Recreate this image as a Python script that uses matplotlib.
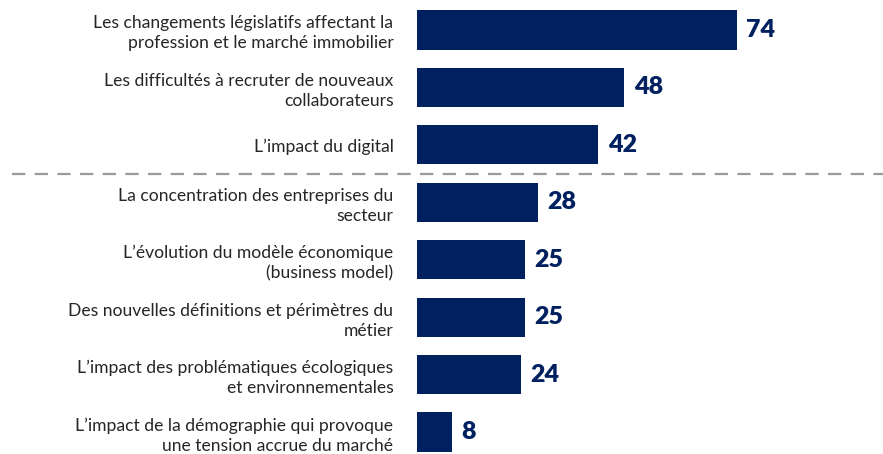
import matplotlib
matplotlib.use("Agg")
import matplotlib.pyplot as plt

labels = [
    "Les changements législatifs affectant la\nprofession et le marché immobilier",
    "Les difficultés à recruter de nouveaux\ncollaborateurs",
    "L’impact du digital",
    "La concentration des entreprises du\nsecteur",
    "L’évolution du modèle économique\n(business model)",
    "Des nouvelles définitions et périmètres du\nmétier",
    "L’impact des problématiques écologiques\net environnementales",
    "L’impact de la démographie qui provoque\nune tension accrue du marché",
]
values = [74, 48, 42, 28, 25, 25, 24, 8]

navy = "#002060"
plt.rcParams["font.family"] = ["Lato", "DejaVu Sans"]

fig = plt.figure(figsize=(8.83, 4.54), dpi=100)
ax = fig.add_axes([417 / 883, 0, 466 / 883, 1])

pos = list(range(len(values)))
ax.barh(pos, values, height=0.68, color=navy)
ax.set_xlim(0, 466 / 4.32)
ax.set_ylim(7 + 22 / 57.43, -30 / 57.43)

for p, v in zip(pos, values):
    ax.annotate(str(v), (v, p), xytext=(7, 0), textcoords="offset points",
                va="center", ha="left", fontsize=18, fontweight="heavy", color=navy)

ax.set_yticks(pos)
ax.set_yticklabels(labels, fontsize=12.6, color="#262626", linespacing=1.3)
ax.tick_params(axis="y", length=0, pad=17)
ax.set_xticks([])
for s in ax.spines.values():
    s.set_visible(False)

# separation between top 3 and the rest
ax.plot([-0.87, 1.0], [2.5, 2.5], transform=ax.get_yaxis_transform(), clip_on=False,
        color="#9a9a9a", lw=1.6, dashes=(6, 4.2))

fig.savefig("out.png", dpi=100)
